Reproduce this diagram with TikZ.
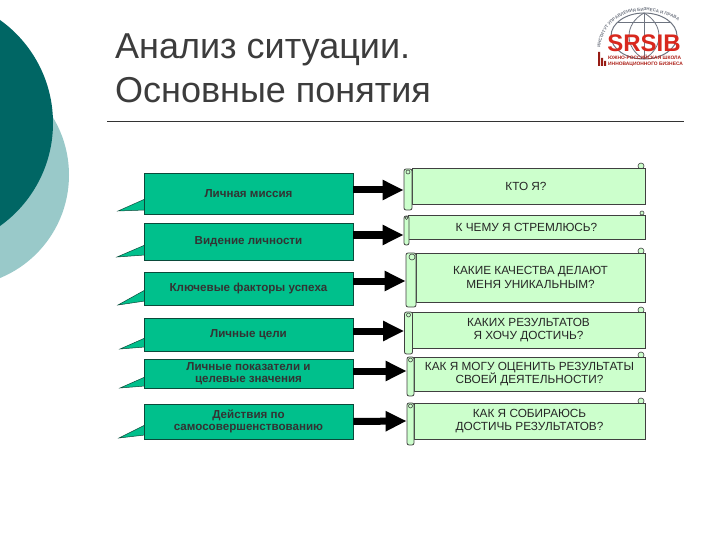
\documentclass[tikz,border=0pt]{standalone}
\usepackage{fontspec}
\setmainfont{Liberation Sans}
\usetikzlibrary{arrows.meta,decorations.text}
\definecolor{deepteal}{HTML}{006664}
\definecolor{paleteal}{HTML}{99C9C9}
\definecolor{titlegrey}{HTML}{3C3C3C}
\definecolor{boxgreen}{HTML}{00C08C}
\definecolor{boxedge}{HTML}{0A4A3A}
\definecolor{paper}{HTML}{CCFFCC}
\definecolor{logored}{HTML}{D8281E}
\definecolor{logogrey}{HTML}{6E7480}
\begin{document}
\begin{tikzpicture}[x=1pt,y=-1pt,
  title/.style={font=\fontsize{36}{36}\selectfont,text=titlegrey,anchor=base west,inner sep=0pt},
  goal/.style={draw=boxedge,fill=boxgreen,line width=0.8pt,minimum width=209pt,inner sep=0pt,
               align=center,font=\fontsize{11.6}{12}\selectfont\bfseries,text=black!80},
  tail/.style={draw=boxedge,fill=boxgreen,line width=0.5pt},
  scrollbox/.style={draw=black!75,fill=paper,line width=0.8pt,inner sep=0pt,align=center,
               font=\fontsize{11.8}{13.4}\selectfont,text=black!85},
  roll/.style={draw=black!75,fill=paper,line width=0.8pt,rounded corners=2pt,inner sep=0pt},
  curl/.style={draw=black!75,fill=paper,line width=0.6pt,circle,inner sep=0pt,minimum size=6pt},
  tinycurl/.style={curl,minimum size=4pt},
  arr/.style={-{Triangle[length=21pt,width=19pt]},line width=7pt,black}]
\useasboundingbox (0,0) rectangle (720,540);
\fill[paleteal] (-42.4,175) circle (111.4);
\fill[deepteal] (-73.6,123) circle (126.6);
\node[title] (head1) at (115,59) {Анализ ситуации.};
\node[title] (head2) at (115,103) {Основные понятия};
\coordinate (ruleL) at (107,121); \coordinate (ruleR) at (684,121);
\draw[black!80,line width=0.6pt] (ruleL)--(ruleR);
% logo
\draw[logogrey,line width=1pt] (644,36) ellipse (33 and 23);
\draw[logogrey,line width=0.8pt] (644,13) .. controls (624,24) and (624,48) .. (644,59);
\draw[logogrey,line width=0.8pt] (644,13) .. controls (664,24) and (664,48) .. (644,59);
\draw[logogrey,line width=0.8pt] (644,13)--(644,59) (618,22)--(670,22);
\path[decorate,decoration={text along path,text align=center,
   text={|\fontsize{4.4}{5}\selectfont\bfseries\color{logogrey}|ИНСТИТУТ УПРАВЛЕНИЯ БИЗНЕСА И ПРАВА}}]
   (600,50) .. controls (604,8) and (650,2) .. (680,22);
\node[font=\fontsize{24}{24}\selectfont\bfseries,text=logored,inner sep=0pt] (logo) at (644,43) {SRSIB};
\node[font=\fontsize{4.9}{5.8}\selectfont\bfseries,text=logored!80!black,align=left,inner sep=0pt,anchor=west] (logotxt) at (608,60.5) {ЮЖНО-РОССИЙСКАЯ ШКОЛА\\ИННОВАЦИОННОГО БИЗНЕСА};
\fill[logored!70!black] (598,52) rectangle (600,66) (601,58) rectangle (603,66) (604,61) rectangle (606,66);
% left boxes
\path[tail] (145,199)--(118,211)--(145,210)--cycle;
\path[tail] (145,245)--(117,257)--(145,255)--cycle;
\path[tail] (145,290)--(118,305)--(145,301)--cycle;
\path[tail] (145,338)--(120,349)--(145,347)--cycle;
\path[tail] (145,377)--(120,388)--(145,386)--cycle;
\path[tail] (145,425)--(119,438)--(145,435)--cycle;
\node[goal,minimum height=41pt] (g1) at (248.5,193.5) {Личная миссия};
\node[goal,minimum height=37pt] (g2) at (248.5,241.5) {\raisebox{-3.5pt}{Видение личности}};
\node[goal,minimum height=33pt] (g3) at (248.5,288.5) {\raisebox{-5.5pt}{Ключевые факторы успеха}};
\node[goal,minimum height=33pt] (g4) at (248.5,334.5) {\raisebox{-4.5pt}{Личные цели}};
\node[goal,minimum height=29pt] (g5) at (248.5,373.5) {Личные показатели и\\целевые значения};
\node[goal,minimum height=35pt] (g6) at (248.5,421.5) {Действия по\\самосовершенствованию};
% scrolls
\node[curl] (c1) at (641,166) {};
\node[tinycurl] (c2) at (642,213) {};
\node[curl] (c3) at (641,251) {};
\node[curl] (c4) at (641,310) {};
\node[curl] (c5) at (641,355) {};
\node[curl] (c6) at (641,401) {};
\node[scrollbox,minimum width=233pt,minimum height=36pt] (s1) at (528.5,186) {\raisebox{-4.5pt}{КТО Я?\hspace{5pt}}};
\node[scrollbox,minimum width=237pt,minimum height=24pt] (s2) at (526.5,227) {К ЧЕМУ Я СТРЕМЛЮСЬ?};
\node[scrollbox,minimum width=229pt,minimum height=49pt] (s3) at (530.5,277.5) {КАКИЕ КАЧЕСТВА ДЕЛАЮТ\\МЕНЯ УНИКАЛЬНЫМ?};
\node[scrollbox,minimum width=233pt,minimum height=36pt] (s4) at (528.5,330) {КАКИХ РЕЗУЛЬТАТОВ\\Я ХОЧУ ДОСТИЧЬ?};
\node[scrollbox,minimum width=231pt,minimum height=34pt] (s5) at (529.5,374) {КАК Я МОГУ ОЦЕНИТЬ РЕЗУЛЬТАТЫ\\СВОЕЙ ДЕЯТЕЛЬНОСТИ?};
\node[scrollbox,minimum width=231pt,minimum height=36pt] (s6) at (529.5,421) {КАК Я СОБИРАЮСЬ\\ДОСТИЧЬ РЕЗУЛЬТАТОВ?};
\node[roll,minimum width=8pt,minimum height=41pt] (r1) at (408,189.5) {};
\node[roll,minimum width=5pt,minimum height=29pt] (r2) at (406.5,230.5) {};
\node[roll,minimum width=10pt,minimum height=54pt] (r3) at (411,280) {};
\node[roll,minimum width=8pt,minimum height=42pt] (r4) at (408.5,333) {};
\node[roll,minimum width=7pt,minimum height=39pt] (r5) at (410.5,376.5) {};
\node[roll,minimum width=7pt,minimum height=42pt] (r6) at (410.5,424) {};
\node[tinycurl] (q1) at (408,172) {};
\node[tinycurl,minimum size=3pt] (q2) at (406.5,218) {};
\node[curl] (q3) at (412,257) {};
\node[tinycurl] (q4) at (408.5,315) {};
\node[tinycurl] (q5) at (410.5,360) {};
\node[tinycurl] (q6) at (410.5,406) {};
\draw[arr] ([yshift=3.5pt]g1.east)--([yshift=-0.5pt]r1.west);
\draw[arr] ([yshift=6.5pt]g2.east)--([yshift=-4.5pt]r2.west);
\draw[arr] ([yshift=7.5pt]g3.east)--([yshift=-1pt]r3.west);
\draw[arr] ([yshift=3.5pt]g4.east)--([yshift=2pt]r4.west);
\draw[arr] ([yshift=2.5pt]g5.east)--([yshift=5.5pt]r5.west);
\draw[arr] (g6.east)--([yshift=3pt]r6.west);
\end{tikzpicture}
\end{document}
